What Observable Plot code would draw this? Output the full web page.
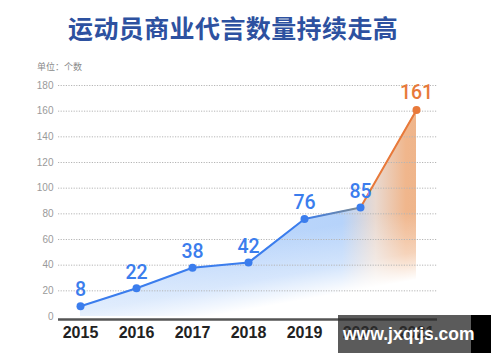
<!DOCTYPE html>
<html><head><meta charset="utf-8">
<script src="https://cdn.jsdelivr.net/npm/d3@7"></script>
<script src="https://cdn.jsdelivr.net/npm/@observablehq/plot@0.6"></script>
<style>
html,body{margin:0;padding:0;background:#fff;}
#wrap{position:relative;width:500px;height:362px;overflow:hidden;}
#title{height:55px;line-height:55px;padding-left:68px;font-family:"Noto Sans CJK SC",sans-serif;font-weight:700;font-size:25px;color:#2d51a0;letter-spacing:0.4px;}
#unit{position:absolute;left:37px;top:61px;font-family:"Noto Sans CJK SC",sans-serif;font-size:9px;line-height:12px;color:#8a8a8a;}
#wm{position:absolute;left:338px;top:315px;width:133px;height:38px;background:rgba(45,45,45,0.78);}
#wm2{position:absolute;left:471px;top:315px;width:20px;height:38px;background:#000;}
#wmt{position:absolute;left:343px;top:315px;height:38px;line-height:38px;font-family:"Liberation Sans",sans-serif;font-weight:700;font-size:17.5px;color:#fff;white-space:nowrap;}
</style></head>
<body><div id="wrap">
<div id="title">运动员商业代言数量持续走高</div>
<div id="unit">单位：个数</div>
<div id="chart"></div>
<div id="wm"></div><div id="wm2"></div><div id="wmt">www.jxqtjs.com</div>
</div>
<script>
const years = ["2015","2016","2017","2018","2019","2020","2021"];
const values = [8, 22, 38, 42, 76, 85, 161];
const yTicks = [0, 20, 40, 60, 80, 100, 120, 140, 160, 180];

const data = years.map((year, i) => ({year, value: values[i]}));
const seg1 = data.slice(0, 5);
const seg2 = data.slice(4, 6);
const seg3 = data.slice(5, 7);
const last = data.length - 1;

const blue = "#3b7ded", orange = "#e8793a";

const svg = Plot.plot({
  width: 500,
  height: 307,
  marginTop: 30,
  marginBottom: 46,
  marginLeft: 58,
  marginRight: 63,
  style: {background: "transparent", overflow: "visible"},
  x: {type: "point", domain: years, padding: 0.37, axis: null},
  y: {domain: [0, 180], axis: null},
  marks: [
    Plot.areaY(data, {x: "year", y: "value", fill: "url(#areaGrad)"}),
    Plot.areaY(data, {x: "year", y: "value", fill: "url(#fadeGrad)"}),
    Plot.ruleY(yTicks.filter(d => d > 0), {stroke: "#b5b5b5", strokeWidth: 1, strokeDasharray: "1.2,1.4"}),
    Plot.ruleY([0], {stroke: "#555", strokeWidth: 2.5, dy: 3}),
    Plot.text(yTicks, {y: d => d, text: d => String(d), frameAnchor: "left", dx: -5, textAnchor: "end", fill: "#9a9a9a", fontSize: 10, fontFamily: "Liberation Sans, sans-serif"}),
    Plot.text(years, {x: d => d, text: d => d, frameAnchor: "bottom", dy: 21, fill: "#222", fontSize: 16, fontWeight: "bold", fontFamily: "Liberation Sans, sans-serif", letterSpacing: "0.8px"}),
    Plot.line(seg1, {x: "year", y: "value", stroke: blue, strokeWidth: 2}),
    Plot.line(seg2, {x: "year", y: "value", stroke: "url(#segGrad)", strokeWidth: 2}),
    Plot.line(seg3, {x: "year", y: "value", stroke: orange, strokeWidth: 2}),
    Plot.dot(data.slice(0, last), {x: "year", y: "value", r: 4, fill: blue}),
    Plot.dot(data.slice(last), {x: "year", y: "value", r: 4, fill: orange}),
    Plot.text(data.slice(0, last), {x: "year", y: "value", text: d => String(d.value), dy: -16, fill: blue, fontSize: 19.5, fontWeight: 500, fontFamily: "Roboto, sans-serif", letterSpacing: "0.5px"}),
    Plot.text(data.slice(last), {x: "year", y: "value", text: d => String(d.value), dy: -17, fill: orange, fontSize: 19.5, fontWeight: 500, fontFamily: "Roboto, sans-serif", letterSpacing: "0.5px"})
  ]
});

const defs = d3.select(svg).insert("defs", ":first-child");
const ag = defs.append("linearGradient").attr("id", "areaGrad").attr("x1", 0).attr("y1", 0).attr("x2", 1).attr("y2", 0);
ag.append("stop").attr("offset", 0).attr("stop-color", "#cfe2fc");
ag.append("stop").attr("offset", 0.45).attr("stop-color", "#bdd7fb");
ag.append("stop").attr("offset", 0.78).attr("stop-color", "#b6d3fa");
ag.append("stop").attr("offset", 0.88).attr("stop-color", "#e9d9d0");
ag.append("stop").attr("offset", 0.97).attr("stop-color", "#f0b68c");
ag.append("stop").attr("offset", 1).attr("stop-color", "#efb58b");
const fg = defs.append("linearGradient").attr("id", "fadeGrad").attr("x1", 0.2).attr("y1", 0.72).attr("x2", 0.29).attr("y2", 1.03);
fg.append("stop").attr("offset", 0).attr("stop-color", "#fff").attr("stop-opacity", 0);
fg.append("stop").attr("offset", 0.6).attr("stop-color", "#fff").attr("stop-opacity", 0.4);
fg.append("stop").attr("offset", 1).attr("stop-color", "#fff").attr("stop-opacity", 1);
const sg = defs.append("linearGradient").attr("id", "segGrad").attr("x1", 0).attr("y1", 0).attr("x2", 1).attr("y2", 0);
sg.append("stop").attr("offset", 0).attr("stop-color", "#3b7ded");
sg.append("stop").attr("offset", 1).attr("stop-color", "#7d8a90");

document.getElementById("chart").appendChild(svg);
</script>
</body></html>
